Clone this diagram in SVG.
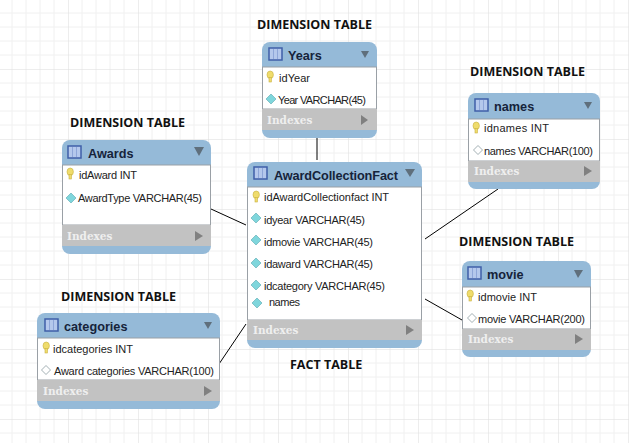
<svg xmlns="http://www.w3.org/2000/svg" width="629" height="443" viewBox="0 0 629 443">
<style>
.lbl{font:bold 12.5px "Open Sans","Liberation Sans",sans-serif;fill:#111}
.t{font:bold 12.7px "Liberation Sans",sans-serif;fill:#15233a}
.c{font:11px "Liberation Sans",sans-serif;fill:#222}
.ix{font:bold 10.5px "DejaVu Serif","Liberation Serif",serif;fill:#efefef}
.frame{fill:#95bad8}
.body{fill:#fff;stroke:#9aa0a6;stroke-width:1}
.idx{fill:#c2c2c2}
.tri{fill:#5f6f7c}
.tri2{fill:#808080}
.ico{fill:#b4c8ec;stroke:#3f5fa8;stroke-width:1.5}
.key{fill:#efdc6c;stroke:#c8b040;stroke-width:.6}
.dia{fill:#7fd6dc;stroke:#5aa8b0;stroke-width:.6}
.dio{fill:#fff;stroke:#8a9aa0;stroke-width:.8}
.conn{stroke:#000;stroke-width:1;fill:none}
</style>
<defs>
<pattern id="grid" width="70" height="70" patternUnits="userSpaceOnUse" x="-2" y="-1">
<path d="M14 0V70M28 0V70M42 0V70M56 0V70M0 14H70M0 28H70M0 42H70M0 56H70" stroke="#f0f0f0" stroke-width="1" fill="none"/>
<path d="M0 0V70M0 0H70" stroke="#dcdcdc" stroke-width="1" fill="none"/>
</pattern>
<g id="ic"><rect x="0" y="0" width="13" height="12" class="ico"/><path d="M4.5 1V11M8.5 1V11" stroke="#8ea6d8" stroke-width="1"/></g>
<g id="k"><ellipse cx="3.2" cy="3.8" rx="3.2" ry="3.8" class="key"/><rect x="2" y="6.5" width="2.4" height="4.5" class="key"/></g>
<path id="d" d="M0 -5L5 0L0 5L-5 0Z" class="dia"/>
<path id="o" d="M0 -4.5L4.5 0L0 4.5L-4.5 0Z" class="dio"/>
</defs>
<rect width="629" height="443" fill="#fff"/>
<rect width="629" height="443" fill="url(#grid)"/>

<g id="connectors">
<path class="conn" d="M317 138V160"/>
<path class="conn" d="M211 209L246 225"/>
<path class="conn" d="M425 239L498 189"/>
<path class="conn" d="M425 299L462 320"/>
<path class="conn" d="M219 364L246 324"/>
</g>

<g id="label-years"><text class="lbl" x="257" y="29">DIMENSION TABLE</text></g>
<g id="label-names"><text class="lbl" x="470" y="76">DIMENSION TABLE</text></g>
<g id="label-awards"><text class="lbl" x="70" y="127">DIMENSION TABLE</text></g>
<g id="label-movie"><text class="lbl" x="459" y="246">DIMENSION TABLE</text></g>
<g id="label-categories"><text class="lbl" x="61" y="301">DIMENSION TABLE</text></g>
<g id="label-fact"><text class="lbl" x="290" y="369">FACT TABLE</text></g>

<g id="years">
<rect class="frame" x="262" y="42" width="115" height="96" rx="8"/>
<rect class="body" x="262.5" y="67" width="114" height="42"/>
<rect class="idx" x="262" y="109" width="115" height="21"/>
<use href="#ic" x="269" y="48"/>
<text class="t" x="288" y="60">Years</text>
<path class="tri" d="M361 51H369L365 58Z"/>
<use href="#k" x="267" y="71"/>
<text class="c" x="279" y="82" textLength="31">idYear</text>
<use href="#d" x="271" y="99"/>
<text class="c" x="278" y="104" textLength="88">Year VARCHAR(45)</text>
<text class="ix" x="267" y="124">Indexes</text>
<path class="tri2" d="M361 115L368 120L361 125Z"/>
</g>

<g id="awards">
<rect class="frame" x="62" y="140" width="149" height="114" rx="8"/>
<rect class="body" x="62.5" y="165" width="148" height="60"/>
<rect class="idx" x="62" y="225" width="149" height="21"/>
<use href="#ic" x="68" y="146"/>
<text class="t" x="88" y="158">Awards</text>
<path class="tri" d="M194 147H204L199 156Z"/>
<use href="#k" x="67" y="168"/>
<text class="c" x="79" y="179" textLength="58">idAward INT</text>
<use href="#d" x="71" y="198"/>
<text class="c" x="78" y="202" textLength="124">AwardType VARCHAR(45)</text>
<text class="ix" x="67" y="240">Indexes</text>
<path class="tri2" d="M195 231L203 236L195 241Z"/>
</g>

<g id="fact">
<rect class="frame" x="247" y="162" width="175" height="186" rx="8"/>
<rect class="body" x="247.5" y="187" width="174" height="133"/>
<rect class="idx" x="247" y="320" width="175" height="20"/>
<use href="#ic" x="254" y="167"/>
<text class="t" x="274" y="180" textLength="124">AwardCollectionFact</text>
<path class="tri" d="M405 169H415L410 177Z"/>
<use href="#k" x="253" y="191"/>
<text class="c" x="264" y="201" textLength="125">idAwardCollectionfact INT</text>
<use href="#d" x="256" y="218"/>
<text class="c" x="264" y="224" textLength="101">idyear VARCHAR(45)</text>
<use href="#d" x="256" y="240"/>
<text class="c" x="264" y="246" textLength="109">idmovie VARCHAR(45)</text>
<use href="#d" x="256" y="263"/>
<text class="c" x="264" y="268" textLength="109">idaward VARCHAR(45)</text>
<use href="#d" x="256" y="285"/>
<text class="c" x="264" y="290" textLength="121">idcategory VARCHAR(45)</text>
<use href="#d" x="257" y="303"/>
<text class="c" x="269" y="306" textLength="31">names</text>
<text class="ix" x="253" y="334">Indexes</text>
<path class="tri2" d="M406 325L414 330L406 335Z"/>
</g>

<g id="names">
<rect class="frame" x="468" y="93" width="132" height="96" rx="8"/>
<rect class="body" x="468.5" y="119" width="131" height="42"/>
<rect class="idx" x="468" y="161" width="132" height="21"/>
<use href="#ic" x="475" y="99"/>
<text class="t" x="494" y="111">names</text>
<path class="tri" d="M584 102H592L588 109Z"/>
<use href="#k" x="473" y="122"/>
<text class="c" x="484" y="132" textLength="65">idnames INT</text>
<use href="#o" x="478" y="150"/>
<text class="c" x="484" y="155" textLength="109">names VARCHAR(100)</text>
<text class="ix" x="474" y="175">Indexes</text>
<path class="tri2" d="M584 166L592 171L584 176Z"/>
</g>

<g id="movie">
<rect class="frame" x="462" y="261" width="129" height="96" rx="8"/>
<rect class="body" x="462.5" y="287" width="128" height="42"/>
<rect class="idx" x="462" y="329" width="129" height="21"/>
<use href="#ic" x="468" y="267"/>
<text class="t" x="487" y="279">movie</text>
<path class="tri" d="M574 270H583L578 278Z"/>
<use href="#k" x="467" y="290"/>
<text class="c" x="478" y="301" textLength="59">idmovie INT</text>
<use href="#o" x="472" y="318"/>
<text class="c" x="478" y="323" textLength="107">movie VARCHAR(200)</text>
<text class="ix" x="468" y="343">Indexes</text>
<path class="tri2" d="M575 334L583 339L575 344Z"/>
</g>

<g id="categories">
<rect class="frame" x="37" y="313" width="183" height="96" rx="8"/>
<rect class="body" x="37.5" y="338" width="182" height="42"/>
<rect class="idx" x="37" y="380" width="183" height="21"/>
<use href="#ic" x="45" y="319"/>
<text class="t" x="64" y="331">categories</text>
<path class="tri" d="M204 322H212L208 329Z"/>
<use href="#k" x="43" y="342"/>
<text class="c" x="53" y="353" textLength="80">idcategories INT</text>
<use href="#o" x="46" y="370"/>
<text class="c" x="54" y="375" textLength="160">Award categories VARCHAR(100)</text>
<text class="ix" x="43" y="395">Indexes</text>
<path class="tri2" d="M204 386L212 391L204 396Z"/>
</g>
</svg>
